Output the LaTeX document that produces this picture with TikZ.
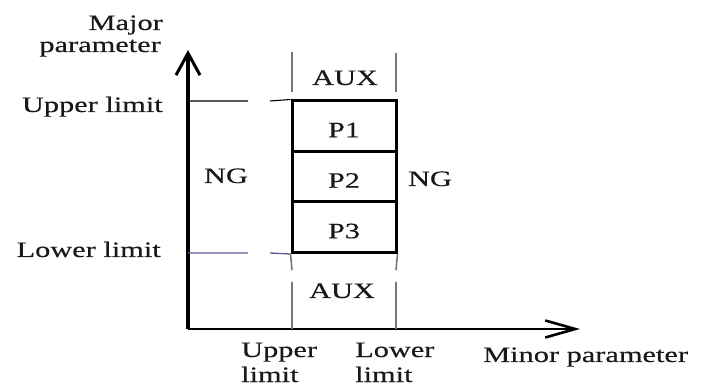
\documentclass[tikz,border=0pt]{standalone}
\usepackage{fontspec}
\setmainfont{Liberation Serif}[FakeStretch=1.38,FakeBold=0.4]
\usetikzlibrary{arrows.meta}
\definecolor{limblue}{RGB}{90,90,150}
\definecolor{auxgray}{RGB}{120,120,120}
\tikzset{
  lbl/.style={inner sep=0pt, font=\fontsize{22}{25}\selectfont, text=black!90},
  cell/.style={draw, line width=3pt, minimum width=104pt, minimum height=50.5pt, inner sep=0pt,
               text height=22pt, text depth=0pt, font=\fontsize{22}{25}\selectfont, text=black!90},
  axis/.style={line width=3.2pt},
  auxline/.style={draw=auxgray, line width=1.6pt},
}
\begin{document}
\begin{tikzpicture}[x=1pt,y=-1pt]
\useasboundingbox (0,0) rectangle (707,387);
% axes
\coordinate (O) at (188,329);
\coordinate (ytip) at (188,50);
\coordinate (xtip) at (580,329);
\draw[axis, -{Straight Barb[length=22pt,width=24pt,line width=3pt]}] (O) -- (ytip);
\draw[line width=2.8pt, -{Straight Barb[length=30pt,width=17pt,line width=2.6pt]}] (O) -- (xtip);
% cells
\node[cell] (P1) at (344,126.25) {P1};
\node[cell] (P2) at (344,176.75) {P2};
\node[cell] (P3) at (344,227.25) {P3};
% limit lines
\coordinate (ua) at (188,101); \coordinate (ub) at (248,101); \coordinate (uc) at (270,101);
\coordinate (la) at (188,253); \coordinate (lb) at (248,253); \coordinate (lc) at (270,253);
\draw[line width=1.1pt] (ua) -- (ub) (uc) -- (P1.north west);
\draw[limblue, line width=1.3pt] (la) -- (lb) (lc) -- (P3.south west);
% aux lines
\coordinate (a1) at (292,52); \coordinate (a2) at (292,92);
\coordinate (b1) at (396,53); \coordinate (b2) at (396,92);
\coordinate (c1) at (292,270); \coordinate (c2) at (292,282); \coordinate (c3) at (292,329);
\coordinate (d1) at (396,270); \coordinate (d2) at (396,282); \coordinate (d3) at (396,329);
\draw[auxline] (a1) -- (a2) (b1) -- (b2);
\draw[auxline] (P3.south west) -- (c1) (c2) -- (c3);
\draw[auxline] (P3.south east) -- (d1) (d2) -- (d3);
% labels
\node[lbl, anchor=base east] (maj) at (163,30) {Major};
\node[lbl, anchor=base east] (par) at (161,52) {parameter};
\node[lbl, anchor=base east] (ul) at (163,112) {Upper limit};
\node[lbl, anchor=base east] (ll) at (161,257) {Lower limit};
\node[lbl, anchor=base] (ng1) at (226,183) {NG};
\node[lbl, anchor=base] (ng2) at (430,186) {NG};
\node[lbl, anchor=base] (auxt) at (345,85) {AUX};
\node[lbl, anchor=base] (auxb) at (342,298) {AUX};
\node[lbl, anchor=base west, align=left] (xu) at (241,382) {Upper\\limit};
\node[lbl, anchor=base west, align=left] (xl) at (355,382) {Lower\\limit};
\node[lbl, anchor=base west] (minor) at (483,362) {Minor parameter};
\end{tikzpicture}
\end{document}
